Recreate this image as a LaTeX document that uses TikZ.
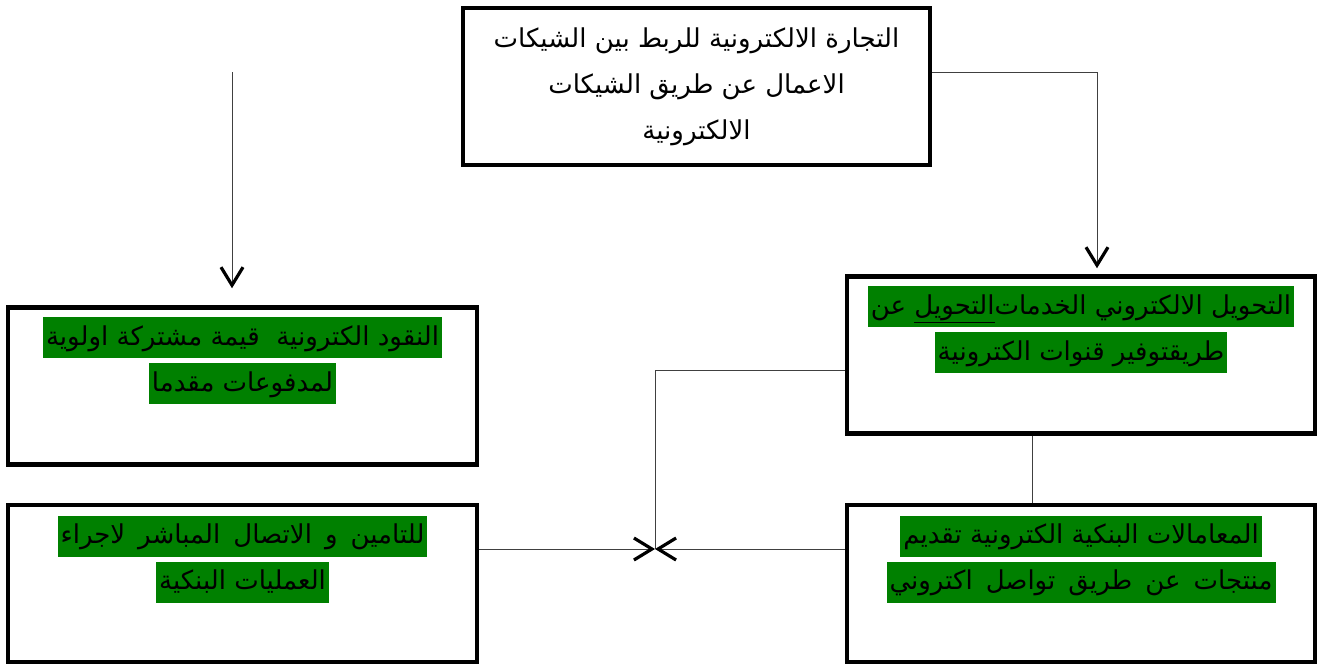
\documentclass[tikz,border=0pt]{standalone}
\usepackage{fontspec}
\newfontfamily\arabicfont[Script=Arabic]{DejaVu Sans}
\TeXXeTstate=1
\usetikzlibrary{arrows.meta}
\definecolor{hl}{HTML}{008000}
\newcommand\hlline[1]{{\setlength{\fboxsep}{0pt}\colorbox{hl}{\rule[-13pt]{0pt}{41pt}\hspace{3pt}\beginR #1\endR\hspace{3pt}}}}
\newcommand\hlwide[1]{{\spaceskip=13pt\hlline{#1}}}
\tikzset{
  box/.style={draw=black, line width=4.5pt, minimum width=468pt, minimum height=157pt, inner sep=0pt},
  conn/.style={draw=black!75, line width=1pt},
  arr/.style={conn, -{Straight Barb[length=18pt,width=22pt,line width=3.2pt,color=black]}},
  arabtxt/.style={font=\arabicfont\fontsize{26}{46}\selectfont, align=center, inner sep=0pt},
}
\begin{document}
\begin{tikzpicture}[x=1pt,y=-1pt]
\useasboundingbox (0,0) rectangle (1319,664);
% boxes
\node[box, minimum width=467pt] (top) at (696.5,86.5) {};
\node[box] (rm) at (1081,355) {};
\node[box, minimum width=469pt] (lm) at (242.5,386) {};
\node[box, minimum width=469pt] (lb) at (242.5,583.5) {};
\node[box] (rb) at (1081,583.5) {};
% texts
\node[arabtxt] (ttop) at ([yshift=0pt]top.center) {\beginR التجارة الالكترونية للربط بين الشيكات\endR\\ \beginR الاعمال عن طريق الشيكات\endR\\ \beginR الالكترونية\endR};
\node[arabtxt, anchor=north] (trm) at ([yshift=-12pt]rm.north) {\hlline{التحويل الالكتروني الخدمات\underline{التحويل} عن}\\ \hlline{طريقتوفير قنوات الكترونية}};
\node[arabtxt, anchor=north] (tlm) at ([yshift=-12pt]lm.north) {\hlline{النقود الكترونية \ قيمة مشتركة اولوية}\\ \hlline{لمدفوعات مقدما}};
\node[arabtxt, anchor=north] (tlb) at ([yshift=-13pt]lb.north) {\hlwide{للتامين و الاتصال المباشر لاجراء}\\ \hlline{العمليات البنكية}};
\node[arabtxt, anchor=north] (trb) at ([yshift=-13pt]rb.north) {\hlline{المعامالات البنكية الكترونية تقديم}\\ \hlwide{منتجات عن طريق تواصل اكتروني}};
% connectors
\coordinate (ls) at (232,72);
\coordinate (j) at (655,549);
\coordinate (rmin) at ([xshift=16pt]rm.north);
\draw[arr, shorten >=6pt] (top.east |- 0,72) -| (rmin);
\draw[arr, shorten >=17pt] (ls) -- (lm.north -| ls);
\draw[conn] (rm.west |- 0,370) -| (j);
\draw[arr] (lb.east |- j) -- (j);
\draw[arr] (rb.west |- j) -- (j);
\draw[conn] (rm.south -| 1032,0) -- (rb.north -| 1032,0);
\end{tikzpicture}
\end{document}
